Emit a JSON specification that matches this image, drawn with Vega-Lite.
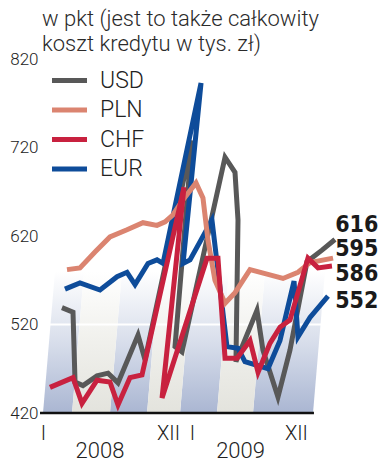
{
  "$schema": "https://vega.github.io/schema/vega-lite/v6.json",
  "width": 345,
  "height": 354,
  "autosize": "none",
  "padding": {"left": 40, "top": 59, "right": 0, "bottom": 58},
  "background": "white",
  "title": {
    "text": ["w pkt (jest to także całkowity", "koszt kredytu w tys. zł)"],
    "anchor": "start",
    "frame": "group",
    "font": "Roboto",
    "fontSize": 22,
    "fontWeight": 300,
    "color": "#2a2a2a",
    "lineHeight": 25,
    "offset": -6,
    "dx": 2
  },
  "config": {
    "view": {"stroke": null},
    "font": "Roboto",
    "axis": {
      "labelFont": "Roboto",
      "labelFontWeight": 300,
      "labelColor": "#222222",
      "domain": false,
      "ticks": false,
      "grid": false,
      "title": null
    }
  },
  "datasets": {
    "series": [
      {"cur": "USD", "o": 1, "x": 1.83, "v": 539},
      {"cur": "USD", "o": 2, "x": 2.75, "v": 534},
      {"cur": "USD", "o": 3, "x": 2.92, "v": 455},
      {"cur": "USD", "o": 4, "x": 3.58, "v": 451},
      {"cur": "USD", "o": 5, "x": 4.75, "v": 462},
      {"cur": "USD", "o": 6, "x": 5.67, "v": 465},
      {"cur": "USD", "o": 7, "x": 6.5, "v": 454},
      {"cur": "USD", "o": 8, "x": 8.17, "v": 508},
      {"cur": "USD", "o": 9, "x": 8.75, "v": 480},
      {"cur": "USD", "o": 10, "x": 12.67, "v": 728},
      {"cur": "USD", "o": 11, "x": 11.25, "v": 495},
      {"cur": "USD", "o": 12, "x": 11.83, "v": 489},
      {"cur": "USD", "o": 13, "x": 15.42, "v": 709},
      {"cur": "USD", "o": 14, "x": 16.25, "v": 692},
      {"cur": "USD", "o": 15, "x": 16.5, "v": 638},
      {"cur": "USD", "o": 16, "x": 16.33, "v": 478},
      {"cur": "USD", "o": 17, "x": 18.08, "v": 536},
      {"cur": "USD", "o": 18, "x": 18.58, "v": 491},
      {"cur": "USD", "o": 19, "x": 19.83, "v": 438},
      {"cur": "USD", "o": 20, "x": 20.83, "v": 491},
      {"cur": "USD", "o": 21, "x": 22.25, "v": 591},
      {"cur": "USD", "o": 22, "x": 23.5, "v": 604},
      {"cur": "USD", "o": 23, "x": 24.58, "v": 616},

      {"cur": "EUR", "o": 1, "x": 2.08, "v": 560},
      {"cur": "EUR", "o": 2, "x": 3.33, "v": 567},
      {"cur": "EUR", "o": 3, "x": 5.0, "v": 559},
      {"cur": "EUR", "o": 4, "x": 6.42, "v": 574},
      {"cur": "EUR", "o": 5, "x": 7.25, "v": 579},
      {"cur": "EUR", "o": 6, "x": 7.92, "v": 565},
      {"cur": "EUR", "o": 7, "x": 9.0, "v": 589},
      {"cur": "EUR", "o": 8, "x": 9.75, "v": 593},
      {"cur": "EUR", "o": 9, "x": 10.25, "v": 589},
      {"cur": "EUR", "o": 10, "x": 13.42, "v": 793},
      {"cur": "EUR", "o": 11, "x": 11.92, "v": 589},
      {"cur": "EUR", "o": 12, "x": 12.5, "v": 593},
      {"cur": "EUR", "o": 13, "x": 14.33, "v": 638},
      {"cur": "EUR", "o": 14, "x": 15.58, "v": 495},
      {"cur": "EUR", "o": 15, "x": 16.5, "v": 493},
      {"cur": "EUR", "o": 16, "x": 17.08, "v": 478},
      {"cur": "EUR", "o": 17, "x": 19.0, "v": 470},
      {"cur": "EUR", "o": 18, "x": 20.0, "v": 502},
      {"cur": "EUR", "o": 19, "x": 21.17, "v": 569},
      {"cur": "EUR", "o": 20, "x": 21.5, "v": 506},
      {"cur": "EUR", "o": 21, "x": 22.5, "v": 528},
      {"cur": "EUR", "o": 22, "x": 24.0, "v": 552},

      {"cur": "PLN", "o": 1, "x": 2.25, "v": 582},
      {"cur": "PLN", "o": 2, "x": 3.33, "v": 584},
      {"cur": "PLN", "o": 3, "x": 4.58, "v": 602},
      {"cur": "PLN", "o": 4, "x": 5.83, "v": 619},
      {"cur": "PLN", "o": 5, "x": 7.25, "v": 627},
      {"cur": "PLN", "o": 6, "x": 8.58, "v": 635},
      {"cur": "PLN", "o": 7, "x": 9.75, "v": 632},
      {"cur": "PLN", "o": 8, "x": 10.42, "v": 636},
      {"cur": "PLN", "o": 9, "x": 11.08, "v": 644},
      {"cur": "PLN", "o": 10, "x": 11.92, "v": 661},
      {"cur": "PLN", "o": 11, "x": 13.0, "v": 680},
      {"cur": "PLN", "o": 12, "x": 13.58, "v": 663},
      {"cur": "PLN", "o": 13, "x": 14.0, "v": 615},
      {"cur": "PLN", "o": 14, "x": 14.58, "v": 570},
      {"cur": "PLN", "o": 15, "x": 15.42, "v": 544},
      {"cur": "PLN", "o": 16, "x": 16.25, "v": 556},
      {"cur": "PLN", "o": 17, "x": 17.5, "v": 582},
      {"cur": "PLN", "o": 18, "x": 18.92, "v": 577},
      {"cur": "PLN", "o": 19, "x": 20.25, "v": 572},
      {"cur": "PLN", "o": 20, "x": 21.5, "v": 579},
      {"cur": "PLN", "o": 21, "x": 22.5, "v": 590},
      {"cur": "PLN", "o": 22, "x": 24.42, "v": 595},

      {"cur": "CHF", "o": 1, "x": 0.83, "v": 449},
      {"cur": "CHF", "o": 2, "x": 2.75, "v": 460},
      {"cur": "CHF", "o": 3, "x": 3.5, "v": 431},
      {"cur": "CHF", "o": 4, "x": 4.75, "v": 457},
      {"cur": "CHF", "o": 5, "x": 5.83, "v": 455},
      {"cur": "CHF", "o": 6, "x": 6.5, "v": 429},
      {"cur": "CHF", "o": 7, "x": 7.5, "v": 460},
      {"cur": "CHF", "o": 8, "x": 8.5, "v": 463},
      {"cur": "CHF", "o": 9, "x": 12.0, "v": 675},
      {"cur": "CHF", "o": 10, "x": 10.17, "v": 437},
      {"cur": "CHF", "o": 11, "x": 13.92, "v": 595},
      {"cur": "CHF", "o": 12, "x": 14.83, "v": 595},
      {"cur": "CHF", "o": 13, "x": 15.42, "v": 482},
      {"cur": "CHF", "o": 14, "x": 16.42, "v": 482},
      {"cur": "CHF", "o": 15, "x": 17.5, "v": 502},
      {"cur": "CHF", "o": 16, "x": 18.17, "v": 466},
      {"cur": "CHF", "o": 17, "x": 19.17, "v": 499},
      {"cur": "CHF", "o": 18, "x": 20.0, "v": 517},
      {"cur": "CHF", "o": 19, "x": 20.83, "v": 525},
      {"cur": "CHF", "o": 20, "x": 22.33, "v": 595},
      {"cur": "CHF", "o": 21, "x": 23.17, "v": 584},
      {"cur": "CHF", "o": 22, "x": 24.33, "v": 586}
    ],
    "bands": [
      {"band": 1, "kind": "blue", "y": 420, "x": 0.25, "x2": 2.67},
      {"band": 1, "kind": "blue", "y": 580, "x": 1.25, "x2": 3.67},
      {"band": 2, "kind": "light", "y": 420, "x": 2.67, "x2": 5.83},
      {"band": 2, "kind": "light", "y": 580, "x": 3.67, "x2": 6.83},
      {"band": 3, "kind": "blue", "y": 420, "x": 5.83, "x2": 8.92},
      {"band": 3, "kind": "blue", "y": 580, "x": 6.83, "x2": 9.92},
      {"band": 4, "kind": "light", "y": 420, "x": 8.92, "x2": 11.67},
      {"band": 4, "kind": "light", "y": 580, "x": 9.92, "x2": 12.67},
      {"band": 5, "kind": "blue", "y": 420, "x": 11.67, "x2": 14.75},
      {"band": 5, "kind": "blue", "y": 580, "x": 12.67, "x2": 15.75},
      {"band": 6, "kind": "light", "y": 420, "x": 14.75, "x2": 17.75},
      {"band": 6, "kind": "light", "y": 580, "x": 15.75, "x2": 18.75},
      {"band": 7, "kind": "blue", "y": 420, "x": 17.75, "x2": 22.75},
      {"band": 7, "kind": "blue", "y": 580, "x": 18.75, "x2": 23.75}
    ],
    "ends": [
      {"cur": "USD", "v": 616},
      {"cur": "PLN", "v": 595},
      {"cur": "CHF", "v": 586},
      {"cur": "EUR", "v": 552}
    ]
  },
  "resolve": {"axis": {"x": "independent"}},
  "layer": [
    {
      "data": {"name": "bands"},
      "transform": [{"filter": "datum.kind === 'blue'"}],
      "mark": {
        "type": "area",
        "orient": "horizontal",
        "fill": {
          "gradient": "linear", "x1": 0, "y1": 1, "x2": 0, "y2": 0,
          "stops": [
            {"offset": 0, "color": "#aab6d2"},
            {"offset": 0.5, "color": "#d8deeb"},
            {"offset": 1, "color": "#ffffff"}
          ]
        }
      },
      "encoding": {
        "y": {"field": "y", "type": "quantitative", "title": null, "scale": {"domain": [420, 820], "nice": false, "zero": false}},
        "x": {"field": "x", "type": "quantitative", "axis": null, "scale": {"domain": [0, 28.75], "nice": false, "zero": false}},
        "x2": {"field": "x2"},
        "detail": {"field": "band"}
      }
    },
    {
      "data": {"name": "bands"},
      "transform": [{"filter": "datum.kind === 'light'"}],
      "mark": {
        "type": "area",
        "orient": "horizontal",
        "fill": {
          "gradient": "linear", "x1": 0, "y1": 1, "x2": 0, "y2": 0,
          "stops": [
            {"offset": 0, "color": "#e3e3dd"},
            {"offset": 0.5, "color": "#f0f0ec"},
            {"offset": 1, "color": "#ffffff"}
          ]
        }
      },
      "encoding": {
        "y": {"field": "y", "type": "quantitative", "title": null, "scale": {"domain": [420, 820], "nice": false, "zero": false}},
        "x": {"field": "x", "type": "quantitative", "axis": null, "scale": {"domain": [0, 28.75], "nice": false, "zero": false}},
        "x2": {"field": "x2"},
        "detail": {"field": "band"}
      }
    },
    {
      "data": {"values": [{"g": 520}]},
      "mark": {"type": "rule", "color": "#ffffff", "strokeWidth": 2},
      "encoding": {
        "y": {"field": "g", "type": "quantitative", "title": null, "scale": {"domain": [420, 820], "nice": false, "zero": false}}
      }
    },
    {
      "data": {"values": [{"x": 0, "x2": 22.83, "y": 420}]},
      "mark": {"type": "rule", "color": "#111111", "strokeWidth": 2.5},
      "encoding": {
        "y": {"field": "y", "type": "quantitative", "title": null, "scale": {"domain": [420, 820], "nice": false, "zero": false}},
        "x": {
          "field": "x", "type": "quantitative",
          "scale": {"domain": [0, 28.75], "nice": false, "zero": false},
          "axis": {
            "orient": "bottom",
            "values": [4.96, 16.67],
            "labelExpr": "datum.value < 10 ? '2008' : '2009'",
            "labelFontSize": 22,
            "labelPadding": 27,
            "labelFontWeight": 300,
            "title": null
          }
        },
        "x2": {"field": "x2"}
      }
    },
    {
      "data": {"name": "series"},
      "mark": {"type": "line", "strokeWidth": 5, "strokeJoin": "miter"},
      "encoding": {
        "x": {
          "field": "x", "type": "quantitative",
          "scale": {"domain": [0, 28.75], "nice": false, "zero": false},
          "axis": {
            "orient": "bottom",
            "values": [0.25, 10.67, 12.67, 21.33],
            "labelExpr": "datum.value < 1 ? 'I' : datum.value < 12 ? 'XII' : datum.value < 13 ? 'I' : 'XII'",
            "labelFontSize": 20,
            "labelPadding": 10,
            "title": null
          }
        },
        "y": {
          "field": "v", "type": "quantitative",
          "scale": {"domain": [420, 820], "nice": false, "zero": false},
          "axis": {
            "values": [420, 520, 620, 720, 820],
            "labelFontSize": 17,
            "labelPadding": 2,
            "title": null
          },
          "title": null
        },
        "color": {
          "field": "cur", "type": "nominal",
          "scale": {"domain": ["USD", "PLN", "CHF", "EUR"], "range": ["#585858", "#db8470", "#c8213f", "#0e4c9a"]},
          "legend": {
            "orient": "none",
            "legendX": 13,
            "legendY": 5,
            "title": null,
            "symbolType": "M-1.25,0H1.25",
            "symbolStrokeWidth": 5,
            "symbolSize": 784,
            "labelFont": "Roboto",
            "labelFontWeight": 300,
            "labelFontSize": 23,
            "labelColor": "#222222",
            "labelOffset": 14,
            "rowPadding": 0.5
          }
        },
        "order": {"field": "o", "type": "quantitative"}
      }
    },
    {
      "data": {"name": "ends"},
      "transform": [{"filter": "datum.cur === 'USD'"}],
      "mark": {"type": "text", "align": "left", "baseline": "middle", "dy": -15, "font": "DejaVu Sans Condensed", "fontWeight": "bold", "fontSize": 23, "color": "#1a1a1a"},
      "encoding": {
        "x": {"datum": 24.6, "type": "quantitative", "axis": null, "scale": {"domain": [0, 28.75], "nice": false, "zero": false}},
        "y": {"field": "v", "type": "quantitative", "title": null, "scale": {"domain": [420, 820], "nice": false, "zero": false}},
        "text": {"field": "v", "type": "quantitative"}
      }
    },
    {
      "data": {"name": "ends"},
      "transform": [{"filter": "datum.cur === 'PLN'"}],
      "mark": {"type": "text", "align": "left", "baseline": "middle", "dy": -9, "font": "DejaVu Sans Condensed", "fontWeight": "bold", "fontSize": 23, "color": "#1a1a1a"},
      "encoding": {
        "x": {"datum": 24.6, "type": "quantitative", "axis": null, "scale": {"domain": [0, 28.75], "nice": false, "zero": false}},
        "y": {"field": "v", "type": "quantitative", "title": null, "scale": {"domain": [420, 820], "nice": false, "zero": false}},
        "text": {"field": "v", "type": "quantitative"}
      }
    },
    {
      "data": {"name": "ends"},
      "transform": [{"filter": "datum.cur === 'CHF'"}],
      "mark": {"type": "text", "align": "left", "baseline": "middle", "dy": 8, "font": "DejaVu Sans Condensed", "fontWeight": "bold", "fontSize": 23, "color": "#1a1a1a"},
      "encoding": {
        "x": {"datum": 24.6, "type": "quantitative", "axis": null, "scale": {"domain": [0, 28.75], "nice": false, "zero": false}},
        "y": {"field": "v", "type": "quantitative", "title": null, "scale": {"domain": [420, 820], "nice": false, "zero": false}},
        "text": {"field": "v", "type": "quantitative"}
      }
    },
    {
      "data": {"name": "ends"},
      "transform": [{"filter": "datum.cur === 'EUR'"}],
      "mark": {"type": "text", "align": "left", "baseline": "middle", "dy": 5, "font": "DejaVu Sans Condensed", "fontWeight": "bold", "fontSize": 23, "color": "#1a1a1a"},
      "encoding": {
        "x": {"datum": 24.6, "type": "quantitative", "axis": null, "scale": {"domain": [0, 28.75], "nice": false, "zero": false}},
        "y": {"field": "v", "type": "quantitative", "title": null, "scale": {"domain": [420, 820], "nice": false, "zero": false}},
        "text": {"field": "v", "type": "quantitative"}
      }
    }
  ]
}
